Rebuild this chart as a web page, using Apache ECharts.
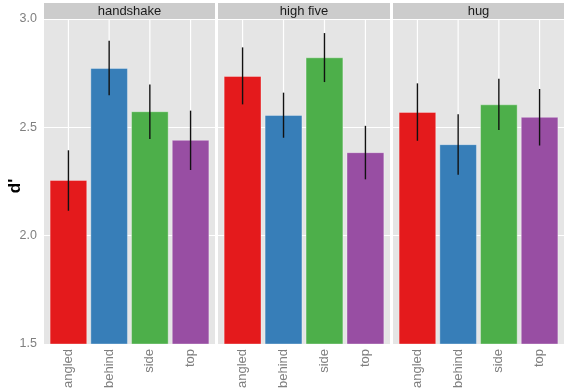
<!DOCTYPE html>
<html>
<head>
<meta charset="utf-8">
<script src="https://cdn.jsdelivr.net/npm/echarts@6/dist/echarts.min.js"></script>
<style>
html, body { margin: 0; padding: 0; background: #fff; }
#main { width: 567px; height: 392px; }
</style>
</head>
<body>
<div id="main"></div>
<script>
var facets = ['handshake', 'high five', 'hug'];
var views = ['angled', 'behind', 'side', 'top'];
var viewColors = ['#E41A1C', '#377EB8', '#4DAF4A', '#984EA3'];

// d' means and error bar limits, one array per facet
var handshakeMean = [2.255, 2.772, 2.572, 2.440];
var handshakeLow = [2.115, 2.648, 2.446, 2.303];
var handshakeHigh = [2.394, 2.900, 2.698, 2.577];

var highFiveMean = [2.735, 2.555, 2.821, 2.383];
var highFiveLow = [2.606, 2.452, 2.709, 2.260];
var highFiveHigh = [2.869, 2.660, 2.935, 2.507];

var hugMean = [2.569, 2.420, 2.604, 2.546];
var hugLow = [2.438, 2.281, 2.488, 2.416];
var hugHigh = [2.703, 2.560, 2.724, 2.677];

var yTicks = [1.5, 2.0, 2.5, 3.0];

var means = [handshakeMean, highFiveMean, hugMean];
var lows = [handshakeLow, highFiveLow, hugLow];
var highs = [handshakeHigh, highFiveHigh, hugHigh];

var dom = document.getElementById('main');
var myChart = echarts.init(dom, null, { renderer: 'canvas' });

var font = 'Liberation Sans, Arial, Helvetica, sans-serif';
var panelLeft = [44, 218, 393];
var panelWidth = [171, 172, 171];
var panelTop = 19;
var panelBottom = 48;
var stripHeight = 16;

var grids = [], xAxes = [], yAxes = [], series = [], graphics = [];

facets.forEach(function (facet, f) {
    grids.push({
        left: panelLeft[f],
        width: panelWidth[f],
        top: panelTop,
        bottom: panelBottom,
        outerBoundsMode: 'none',
        containLabel: false,
        show: true,
        backgroundColor: '#E5E5E5',
        borderWidth: 0
    });
    xAxes.push({
        gridIndex: f,
        type: 'value',
        min: 0.4,
        max: 4.6,
        axisLine: { show: false },
        axisTick: { show: false, customValues: [1, 2, 3, 4] },
        splitLine: { show: false },
        axisLabel: {
            customValues: [1, 2, 3, 4],
            rotate: 90,
            margin: 5,
            color: '#7F7F7F',
            fontSize: 13,
            fontFamily: font,
            formatter: function (v) { return views[Math.round(v) - 1]; }
        }
    });
    yAxes.push({
        gridIndex: f,
        type: 'value',
        min: yTicks[0],
        max: yTicks[yTicks.length - 1],
        interval: 0.5,
        axisLine: { show: false },
        axisTick: { show: false },
        splitLine: { show: true, lineStyle: { color: '#FFFFFF', width: 1.2 } },
        axisLabel: {
            show: f === 0,
            margin: 7,
            color: '#7F7F7F',
            fontSize: 12.5,
            fontFamily: font,
            formatter: function (v) { return v.toFixed(1); }
        }
    });

    // vertical grid lines at each category
    series.push({
        type: 'custom',
        xAxisIndex: f,
        yAxisIndex: f,
        z: 1,
        silent: true,
        data: views.map(function (v, i) { return [i + 1]; }),
        renderItem: function (params, api) {
            var x = api.value(0);
            var a = api.coord([x, yTicks[0]]);
            var b = api.coord([x, yTicks[yTicks.length - 1]]);
            return {
                type: 'line',
                shape: { x1: a[0], y1: a[1], x2: b[0], y2: b[1] },
                style: { stroke: '#FFFFFF', lineWidth: 1.2 }
            };
        }
    });

    // bars
    series.push({
        type: 'custom',
        name: facet,
        xAxisIndex: f,
        yAxisIndex: f,
        z: 3,
        data: views.map(function (v, i) { return [i + 1, means[f][i]]; }),
        encode: { x: 0, y: 1 },
        renderItem: function (params, api) {
            var x = api.value(0);
            var p0 = api.coord([x - 0.45, api.value(1)]);
            var p1 = api.coord([x + 0.45, yTicks[0]]);
            return {
                type: 'rect',
                shape: { x: p0[0], y: p0[1], width: p1[0] - p0[0], height: p1[1] - p0[1] },
                style: { fill: viewColors[x - 1], stroke: 'rgba(255,255,255,0.35)', lineWidth: 1 }
            };
        }
    });

    // error bars
    series.push({
        type: 'custom',
        xAxisIndex: f,
        yAxisIndex: f,
        z: 4,
        data: views.map(function (v, i) { return [i + 1, lows[f][i], highs[f][i]]; }),
        encode: { x: 0, y: [1, 2] },
        renderItem: function (params, api) {
            var x = api.value(0);
            var a = api.coord([x, api.value(1)]);
            var b = api.coord([x, api.value(2)]);
            return {
                type: 'line',
                shape: { x1: a[0], y1: a[1], x2: b[0], y2: b[1] },
                style: { stroke: '#111111', lineWidth: 1.4 }
            };
        }
    });

    // facet strip
    graphics.push({
        type: 'rect',
        left: panelLeft[f],
        top: panelTop - stripHeight,
        shape: { width: panelWidth[f], height: stripHeight },
        style: { fill: '#CCCCCC' },
        silent: true
    });
    graphics.push({
        type: 'text',
        x: panelLeft[f] + panelWidth[f] / 2,
        y: panelTop - stripHeight / 2,
        style: {
            text: facet,
            fill: '#1A1A1A',
            font: '13px ' + font,
            align: 'center',
            verticalAlign: 'middle'
        },
        silent: true
    });
});

// y axis title
graphics.push({
    type: 'text',
    x: 15,
    y: 186,
    rotation: Math.PI / 2,
    style: {
        text: "d'",
        fill: '#000000',
        font: 'bold 17px ' + font,
        align: 'center',
        verticalAlign: 'middle'
    },
    silent: true
});

var option = {
    backgroundColor: '#FFFFFF',
    animation: false,
    grid: grids,
    xAxis: xAxes,
    yAxis: yAxes,
    series: series,
    graphic: graphics
};

if (option && typeof option === 'object') {
    myChart.setOption(option);
}
</script>
</body>
</html>
